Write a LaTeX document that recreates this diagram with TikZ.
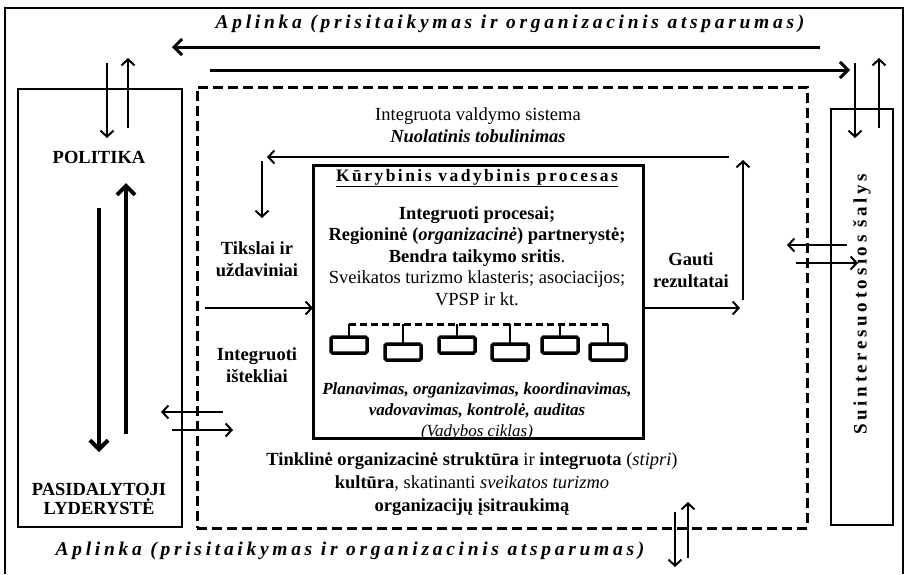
\documentclass[tikz,border=0pt]{standalone}
\usepackage{fontspec}
\setmainfont{Liberation Serif}
\usetikzlibrary{arrows.meta}
\begin{document}
\begin{tikzpicture}[x=1pt,y=-1pt,
  every node/.style={inner sep=0pt,outer sep=0pt},
  panel/.style={draw,line width=2.2pt},
  dashpanel/.style={draw,line width=3pt,dash pattern=on 10pt off 5pt},
  procbox/.style={draw,line width=3pt},
  unit/.style={draw,line width=3.5pt,rounded corners=1.5pt,minimum width=36pt,minimum height=16pt},
  thin arrow/.style={line width=2pt,-{Straight Barb[length=6pt,width=13pt]}},
  long arrow/.style={line width=3pt,-{Straight Barb[length=8pt,width=16pt]}},
  heavy arrow/.style={line width=4pt,-{Straight Barb[length=9pt,width=18pt]}},
  plainline/.style={line width=2pt},
  bus/.style={line width=3pt,dash pattern=on 7pt off 4pt},
  body/.style={font=\fontsize{18.5}{21.5}\selectfont,align=center},
  envlabel/.style={font=\fontsize{19.5}{21}\selectfont\bfseries\itshape\addfontfeatures{LetterSpace=19}},
]
\useasboundingbox (0,0) rectangle (906,574);

% outer environment frame (open at the bottom)
\draw[line width=2pt] (5,574) -- (5,8) -- (903,8) -- (903,574);

% environment labels
\node[envlabel] (envtop) at (510,24) {Aplinka (prisitaikymas ir organizacinis atsparumas)};
\node[envlabel] (envbot) at (350,551) {Aplinka (prisitaikymas ir organizacinis atsparumas)};

% main panels
\node[panel,minimum width=164pt,minimum height=438pt] (policy) at (100,308) {};
\node[dashpanel,minimum width=610pt,minimum height=441pt] (org) at (502,307.5) {};
\node[panel,minimum width=62pt,minimum height=416pt] (stake) at (862,317) {};
\node[procbox,minimum width=330pt,minimum height=273pt] (proc) at (478,301.5) {};

% stakeholder label
\node[rotate=90,font=\fontsize{19}{21}\selectfont\bfseries\addfontfeatures{LetterSpace=19}] (stakelbl) at (862,304) {Suinteresuotosios šalys};

% left panel texts
\node[body,font=\fontsize{18.5}{21}\selectfont\bfseries] (politika) at (99,157) {POLITIKA};
\node[body,font=\fontsize{18.5}{19.5}\selectfont\bfseries] (lyder) at (99,499) {PASIDALYTOJI\\LYDERYSTĖ};

% labels around the process box
\node[body,font=\fontsize{18.5}{22}\selectfont] (valdymas) at (478,125) {Integruota valdymo sistema\\\textbf{\textit{Nuolatinis tobulinimas}}};
\node[body,font=\fontsize{18.5}{22}\selectfont\bfseries] (tikslai) at (257,259) {Tikslai ir\\uždaviniai};
\node[body,font=\fontsize{18.5}{22}\selectfont\bfseries] (istekliai) at (257,365) {Integruoti\\ištekliai};
\node[body,font=\fontsize{18.5}{22}\selectfont\bfseries] (gauti) at (691,270) {Gauti\\rezultatai};
\node[body,font=\fontsize{18.5}{23}\selectfont] (kultura) at (472,484) {\textbf{Tinklinė organizacinė struktūra} ir \textbf{integruota} (\textit{stipri})\\\textbf{kultūra}, skatinanti \textit{sveikatos turizmo}\\\textbf{organizacijų įsitraukimą}};

% process box contents
\node[font=\fontsize{17.5}{19}\selectfont\bfseries\addfontfeatures{LetterSpace=14}] (kvp) at (477,178) {\underline{Kūrybinis vadybinis procesas}};
\node[body] (partner) at (477,256) {\textbf{Integruoti procesai;}\\\textbf{Regioninė (\textit{organizacinė}) partnerystė;}\\\textbf{Bendra taikymo sritis}.\\Sveikatos turizmo klasteris; asociacijos;\\VPSP ir kt.};
\node[body,font=\fontsize{17}{21}\selectfont] (ciklas) at (477,411) {\textbf{\textit{Planavimas, organizavimas, koordinavimas,}}\\\textbf{\textit{vadovavimas, kontrolė, auditas}}\\\textit{(Vadybos ciklas)}};

% network of units
\node[unit] (u1) at (349,345) {};
\node[unit] (u2) at (403,352) {};
\node[unit] (u3) at (457,345) {};
\node[unit] (u4) at (510,352) {};
\node[unit] (u5) at (560,345) {};
\node[unit] (u6) at (608,352) {};
\coordinate (busL) at (349,324);
\coordinate (busR) at (608,324);
\draw[bus] (busL) -- (busR);
\foreach \u in {u1,u2,u3,u4,u5,u6} \draw[plainline] (\u.north) -- (\u.north |- busL);

% environment flows
\coordinate (envLs) at (820,47); \coordinate (envLe) at (172,47);
\coordinate (envRs) at (210,70); \coordinate (envRe) at (850,70);
\draw[long arrow] (envLs) -- (envLe);
\draw[long arrow] (envRs) -- (envRe);

% exchange with the policy panel
\coordinate (pInS) at (107,63);  \coordinate (pInE) at (107,138);
\coordinate (pOutS) at (128,128); \coordinate (pOutE) at (128,58);
\draw[thin arrow] (pInS) -- (pInE);
\draw[thin arrow] (pOutS) -- (pOutE);
\coordinate (pDnS) at (99,208);  \coordinate (pDnE) at (99,452);
\coordinate (pUpS) at (126,434); \coordinate (pUpE) at (126,183);
\draw[heavy arrow] (pDnS) -- (pDnE);
\draw[heavy arrow] (pUpS) -- (pUpE);
\coordinate (lxLs) at (223,412); \coordinate (lxLe) at (161,412);
\coordinate (lxRs) at (172,430); \coordinate (lxRe) at (233,430);
\draw[thin arrow] (lxLs) -- (lxLe);
\draw[thin arrow] (lxRs) -- (lxRe);

% management loop
\coordinate (fbR) at (729,157); \coordinate (fbL) at (267,157);
\draw[thin arrow] (fbR) -- (fbL);
\coordinate (fbDs) at (262,161); \coordinate (fbDe) at (262,218);
\draw[thin arrow] (fbDs) -- (fbDe);
\coordinate (inS) at (205,308);
\draw[thin arrow] (inS) -- (inS -| proc.west);
\coordinate (outE) at (740,308);
\draw[thin arrow] (outE -| proc.east) -- (outE);
\coordinate (upS) at (743,300); \coordinate (upE) at (743,160);
\draw[thin arrow] (upS) -- (upE);

% exchange with stakeholders
\coordinate (rxLs) at (847,245); \coordinate (rxLe) at (787,245);
\coordinate (rxRs) at (796,263); \coordinate (rxRe) at (858,263);
\draw[thin arrow] (rxLs) -- (rxLe);
\draw[thin arrow] (rxRs) -- (rxRe);
\coordinate (sInS) at (855,63);  \coordinate (sInE) at (855,138);
\coordinate (sOutS) at (879,128); \coordinate (sOutE) at (879,58);
\draw[thin arrow] (sInS) -- (sInE);
\draw[thin arrow] (sOutS) -- (sOutE);

% exchange at the bottom
\coordinate (bDnS) at (675,512); \coordinate (bDnE) at (675,567);
\coordinate (bUpS) at (688,558); \coordinate (bUpE) at (688,502);
\draw[thin arrow] (bDnS) -- (bDnE);
\draw[thin arrow] (bUpS) -- (bUpE);
\end{tikzpicture}
\end{document}
